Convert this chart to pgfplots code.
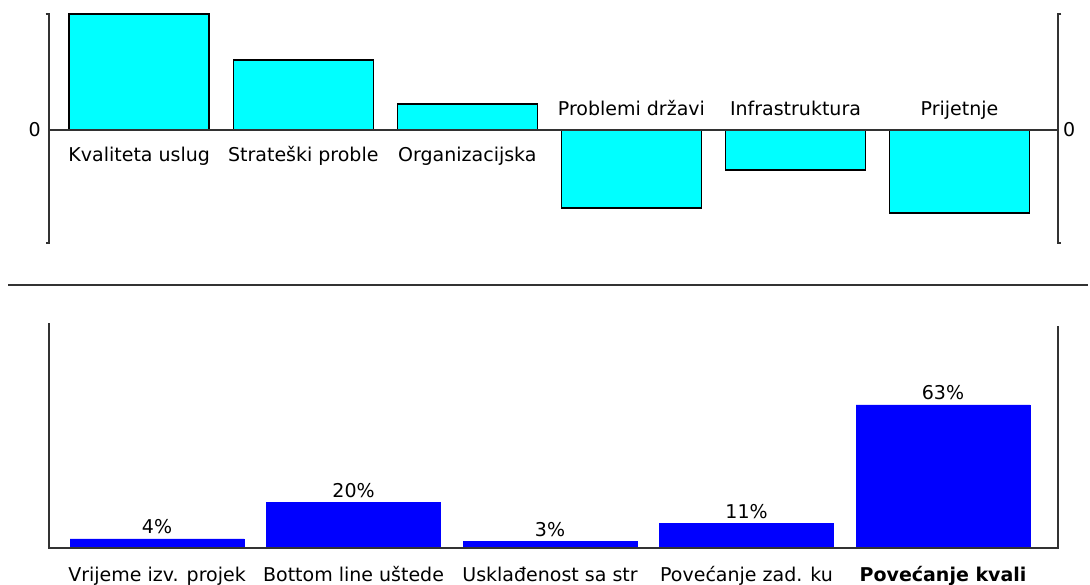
\documentclass[border=0pt]{standalone}
\usepackage{pgfplots}
\pgfplotsset{compat=1.18}
\usepackage{fontspec}
\setmainfont{DejaVu Sans}
\definecolor{barcyan}{RGB}{0,255,255}
\definecolor{barblue}{RGB}{0,0,255}
\definecolor{axgray}{RGB}{50,50,50}
\begin{document}
\fontsize{19}{22}\selectfont
\begin{tikzpicture}
\path[use as bounding box] (0,0) rectangle (1090pt,-585pt);
% ---------- top chart ----------
\begin{axis}[
 at={(49pt,-243pt)}, anchor=south west,
 scale only axis, width=1009pt, height=229pt,
 xmin=-0.55, xmax=5.6, ymin=-113, ymax=116,
 axis line style={draw=none}, xtick=\empty, ytick=\empty, clip=false,
 ybar, bar width=140pt, bar shift=0pt,
]
\addplot[fill=barcyan, draw=black, line width=1.5pt] coordinates {(0,116) (1,70) (2,26) (3,-78) (4,-40) (5,-83)};
\draw[axgray, line width=1.5pt] (axis cs:-0.55,0) -- (axis cs:5.6,0);
\draw[axgray, line width=1.6pt] ([xshift=-3.5pt]rel axis cs:0,1) -- (rel axis cs:0,1) -- (rel axis cs:0,0) -- ([xshift=-3.5pt]rel axis cs:0,0);
\draw[axgray, line width=1.6pt] ([xshift=3.5pt]rel axis cs:1,1) -- (rel axis cs:1,1) -- (rel axis cs:1,0) -- ([xshift=3.5pt]rel axis cs:1,0);
\node[anchor=east, inner sep=0pt] at ([xshift=-8pt]axis cs:-0.55,0) {0};
\node[anchor=west, inner sep=0pt] at ([xshift=5pt]axis cs:5.6,0) {0};
\node[anchor=base, inner sep=0pt] at (axis cs:0,-32) {Kvaliteta uslug};
\node[anchor=base, inner sep=0pt] at (axis cs:1,-32) {Strateški proble};
\node[anchor=base, inner sep=0pt] at (axis cs:2,-32) {Organizacijska};
\node[anchor=base, inner sep=0pt] at (axis cs:3,14) {Problemi državi};
\node[anchor=base, inner sep=0pt] at (axis cs:4,14) {Infrastruktura};
\node[anchor=base, inner sep=0pt] at (axis cs:5,14) {Prijetnje};
\end{axis}
% ---------- separator ----------
\draw[axgray, line width=1.5pt] (8pt,-285pt) -- (1088pt,-285pt);
% ---------- bottom chart ----------
\begin{axis}[
 at={(49pt,-548pt)}, anchor=south west,
 scale only axis, width=1009pt, height=225pt,
 xmin=-0.55, xmax=4.585, ymin=0, ymax=99,
 axis line style={draw=none}, ytick=\empty,
 xtick={0,1,2,3,4}, major tick length=0pt,
 xticklabels={Vrijeme izv. projek, Bottom line uštede, Usklađenost sa str, Povećanje zad. ku, \textbf{Povećanje kvali}},
 every x tick label/.append style={anchor=base, yshift=-33pt, inner sep=0pt},
 clip=false,
 ybar, bar width=174pt, bar shift=0pt,
 nodes near coords={\pgfmathprintnumber[assume math mode=true]{\pgfplotspointmeta}\%},
 every node near coord/.append style={anchor=base, yshift=5pt, inner sep=0pt, text=black},
]
\addplot[fill=barblue, draw=barblue, line width=0.5pt] coordinates {(0,4) (1,20) (2,3) (3,11) (4,63)};
\draw[axgray, line width=1.6pt] (rel axis cs:0,1) -- (rel axis cs:0,0) -- (rel axis cs:1,0) -- (rel axis cs:1,0.987);
\end{axis}
\end{tikzpicture}
\end{document}
